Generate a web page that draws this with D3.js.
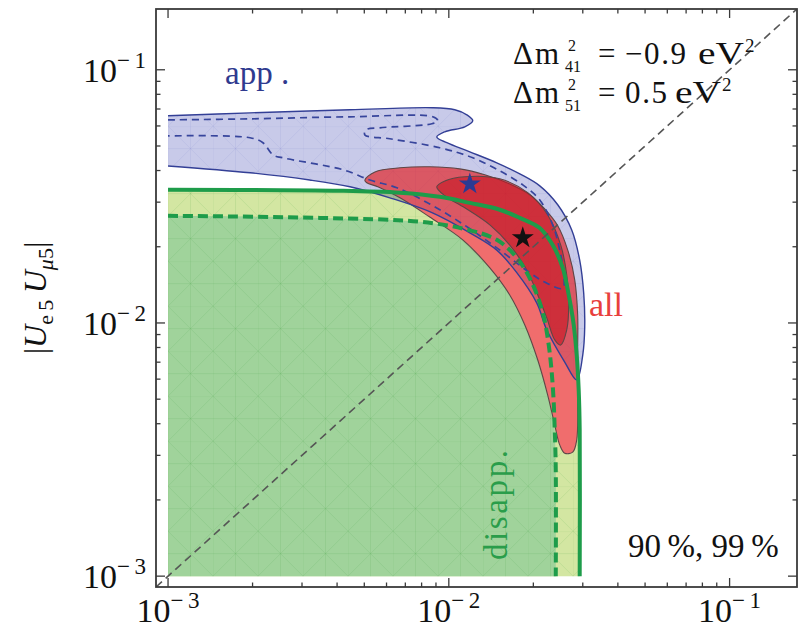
<!DOCTYPE html>
<html><head><meta charset="utf-8">
<script src="https://cdn.jsdelivr.net/npm/d3@7"></script>
<style>body{margin:0;background:#fff} svg{display:block} text{font-family:"Liberation Serif","Times New Roman",serif}</style>
</head><body>
<svg id="c" width="812" height="633"></svg>
<script>
// ---- data ----
const xDomain = [0.000906, 0.1738];
const yDomain = [0.000906, 0.1738];
const majorTicks = [1e-3, 1e-2, 1e-1];
const tickExp = ["\u2212\u20093", "\u2212\u20092", "\u2212\u20091"];
const minorMult = [2,3,4,5,6,7,8,9];
const dataEdge = [0.001, 0.001];

// disappearance 99% (solid) and 90% (dashed)
const disapp99 = [[0.001,0.0336],[0.00409,0.0333],[0.0067,0.0327],[0.00929,0.0315],[0.01188,0.0298],[0.01519,0.0280],[0.0179,0.0260],[0.02108,0.0237],[0.02344,0.0203],[0.02545,0.0165],[0.02673,0.0129],[0.02785,0.00982],[0.02854,0.00747],[0.02901,0.00544],[0.02925,0.00378],[0.02925,0.001]];
const disapp90 = [[0.001,0.0265],[0.003475,0.0260],[0.00789,0.0251],[0.0114,0.0235],[0.01482,0.0213],[0.01746,0.0181],[0.01973,0.0145],[0.02161,0.01095],[0.02269,0.00818],[0.02344,0.00569],[0.02384,0.00378],[0.02404,0.00262],[0.02404,0.001]];
// appearance 99% (solid) and 90% (dashed)
const app99 = [[0.001,0.0658],[0.001959,0.0676],[0.004446,0.0695],[0.00877,0.0708],[0.0105,0.0695],[0.01159,0.0664],[0.01217,0.0629],[0.0114,0.0595],[0.00968,0.0569],[0.00906,0.0543],[0.00984,0.0515],[0.01188,0.0474],[0.01482,0.0429],[0.0179,0.0388],[0.02108,0.0348],[0.02443,0.0293],[0.0274,0.0233],[0.02925,0.0177],[0.03023,0.0131],[0.03048,0.00964],[0.02999,0.00747],[0.02854,0.00596],[0.02587,0.00701],[0.02233,0.00938],[0.02056,0.0120],[0.01746,0.0158],[0.01482,0.0194],[0.01188,0.0227],[0.008551,0.0275],[0.006166,0.0312],[0.004446,0.0345],[0.003199,0.0367],[0.001959,0.0392],[0.001,0.0417]];
const app90 = [[0.001,0.0634],[0.001959,0.0640],[0.004446,0.0652],[0.00877,0.0652],[0.00914,0.0629],[0.0087,0.0612],[0.005675,0.0590],[0.00507,0.0579],[0.005023,0.0553],[0.006166,0.0534],[0.00929,0.0492],[0.01217,0.0449],[0.01519,0.0399],[0.01834,0.0351],[0.02108,0.0306],[0.02344,0.0244],[0.02483,0.0194],[0.02566,0.0155],[0.02545,0.0137],[0.02196,0.0145],[0.01941,0.0158],[0.01482,0.0198],[0.01121,0.0246],[0.008551,0.0295],[0.006531,0.0342],[0.005236,0.0367],[0.004198,0.0403],[0.002564,0.0449],[0.002366,0.0461],[0.002178,0.0515],[0.001959,0.0539],[0.001,0.0548]];
// combined fit 99% and 90%
const all99 = [[0.005023,0.0367],[0.005457,0.0395],[0.006699,0.0410],[0.008551,0.0414],[0.01094,0.0406],[0.01343,0.0385],[0.01648,0.0354],[0.01941,0.0321],[0.02196,0.0282],[0.02443,0.0242],[0.02652,0.0194],[0.02808,0.0148],[0.02877,0.01076],[0.02877,0.00782],[0.02877,0.00496],[0.02854,0.00345],[0.02762,0.00309],[0.02587,0.00306],[0.02483,0.0033],[0.02384,0.00395],[0.0225,0.00519],[0.02074,0.00714],[0.01865,0.00982],[0.01648,0.0129],[0.014,0.0165],[0.01121,0.0213],[0.008551,0.0262],[0.006699,0.0312],[0.005585,0.0345],[0.005105,0.0358]];
const all90 = [[0.00906,0.0345],[0.00968,0.0364],[0.0114,0.0378],[0.01519,0.0371],[0.0191,0.0327],[0.0225,0.0267],[0.02504,0.0203],[0.0263,0.0155],[0.02673,0.0118],[0.0263,0.00938],[0.02504,0.00818],[0.02384,0.00857],[0.02233,0.01047],[0.02074,0.0129],[0.01895,0.0162],[0.01648,0.0203],[0.014,0.0244],[0.0114,0.0285],[0.00968,0.0318]];
const bestApp = [0.01188, 0.0354];
const bestAll = [0.01834, 0.0217];

// ---- drawing ----
const svg = d3.select("#c");
const L = 156, R = 797, T = 9, B = 587;
const x = d3.scaleLog().domain(xDomain).range([L, R]);
const y = d3.scaleLog().domain(yDomain).range([B, T]);

const defs = svg.append("defs");
function mesh(id, col){
  const p = defs.append("pattern").attr("id", id).attr("patternUnits","userSpaceOnUse")
    .attr("x", x(0.001)).attr("y", y(0.001)).attr("width", 45).attr("height", 45);
  p.append("path").attr("d","M0,0L45,45M45,0L0,45M0,0H45M0,0V45M0,22.5H45M22.5,0V45")
    .attr("stroke", col).attr("stroke-width", 0.6).attr("fill","none");
}
mesh("meshG","rgba(50,150,50,0.2)");
mesh("meshB","rgba(70,80,180,0.14)");
defs.append("clipPath").attr("id","plot").append("rect").attr("x",L).attr("y",T).attr("width",R-L).attr("height",B-T);

const g = svg.append("g").attr("clip-path","url(#plot)");
const open = d3.line().x(d=>x(d[0])).y(d=>y(d[1])).curve(d3.curveCatmullRom.alpha(0.5));
const closed = d3.line().x(d=>x(d[0])).y(d=>y(d[1])).curve(d3.curveCatmullRomClosed.alpha(0.5));
const corner = `L${x(dataEdge[0])},${y(dataEdge[1])}Z`;

// green disappearance regions
g.append("path").attr("d", open(disapp99)+corner).attr("fill","#d3e6a2");
g.append("path").attr("d", open(disapp90)+corner).attr("fill","#a0d39b");
g.append("path").attr("d", open(disapp99)+corner).attr("fill","url(#meshG)");

// red region knocks out the green beneath it
g.append("path").attr("d", closed(all99)).attr("fill","#fff");

// blue appearance region fill
g.append("path").attr("d", open(app99)+"Z").attr("fill","#c8cae9").style("mix-blend-mode","multiply");
g.append("path").attr("d", open(app99)+"Z").attr("fill","url(#meshB)");

// red combined regions (semi-transparent over the blue)
g.append("path").attr("d", closed(all99)).attr("fill","rgb(230,12,12)").attr("fill-opacity",0.6).attr("stroke","#5e4646").attr("stroke-width",1.1);
g.append("path").attr("d", closed(all90)).attr("fill","rgb(198,20,31)").attr("fill-opacity",0.6).attr("stroke","#5e4646").attr("stroke-width",1.1);

// blue lines
g.append("path").attr("d", open(app99)).attr("fill","none").attr("stroke","#333f96").attr("stroke-width",1.4);
g.append("path").attr("d", open(app90)).attr("fill","none").attr("stroke","#37459c").attr("stroke-width",1.7).attr("stroke-dasharray","7,5");

// green lines
g.append("path").attr("d", open(disapp99)).attr("fill","none").attr("stroke","#1e9c4a").attr("stroke-width",4);
g.append("path").attr("d", open(disapp90)).attr("fill","none").attr("stroke","#1e9c4a").attr("stroke-width",4).attr("stroke-dasharray","10,5");

// diagonal
g.append("line").attr("x1", x(xDomain[0])).attr("y1", y(yDomain[0])).attr("x2", x(xDomain[1])).attr("y2", y(yDomain[1]))
  .attr("stroke","#555").attr("stroke-width",1.6).attr("stroke-dasharray","8,5");

// best-fit stars
const star = d3.symbol().type(d3.symbolStar).size(150);
svg.append("path").attr("d", star()).attr("transform",`translate(${x(bestApp[0])},${y(bestApp[1])})`).attr("fill","#2b3a93");
svg.append("path").attr("d", star()).attr("transform",`translate(${x(bestAll[0])},${y(bestAll[1])})`).attr("fill","#111");

// frame & ticks
svg.append("rect").attr("x",L).attr("y",T).attr("width",R-L).attr("height",B-T).attr("fill","none").attr("stroke","#3a3a3a").attr("stroke-width",1.8);
const minors = [];
majorTicks.forEach(m => minorMult.forEach(k => minors.push(m*k)));
[1e-4].forEach(m => minorMult.forEach(k => minors.push(m*k)));
const inDom = v => v >= xDomain[0] && v <= xDomain[1];
const tk = svg.append("g").attr("stroke","#3a3a3a").attr("stroke-width",1.3);
majorTicks.concat(minors).filter(inDom).forEach(v => {
  const len = majorTicks.includes(v) ? 9 : 4.5;
  tk.append("line").attr("x1",x(v)).attr("x2",x(v)).attr("y1",B).attr("y2",B-len);
  tk.append("line").attr("x1",x(v)).attr("x2",x(v)).attr("y1",T).attr("y2",T+len);
  tk.append("line").attr("y1",y(v)).attr("y2",y(v)).attr("x1",L).attr("x2",L+len);
  tk.append("line").attr("y1",y(v)).attr("y2",y(v)).attr("x1",R).attr("x2",R-len);
});

// tick labels
majorTicks.forEach((v,i) => {
  const t = svg.append("text").attr("x", x(v)).attr("y", 622).attr("text-anchor","middle")
    .attr("font-size", 34).attr("fill","#111");
  t.append("tspan").text("10");
  t.append("tspan").attr("font-size",23).attr("dy",-14).text(tickExp[i]);
  const u = svg.append("text").attr("x", 146).attr("y", y(v)+12).attr("text-anchor","end")
    .attr("font-size", 34).attr("fill","#111");
  u.append("tspan").text("10");
  u.append("tspan").attr("font-size",23).attr("dy",-14).text(tickExp[i]);
});

// y axis title
const yt = svg.append("text").attr("transform","translate(46,298) rotate(-90)").attr("text-anchor","middle")
  .attr("font-size", 32).attr("fill","#111");
yt.append("tspan").text("|");
yt.append("tspan").attr("font-style","italic").text("U");
yt.append("tspan").attr("font-size",22).attr("dy",7).text("e\u20095");
yt.append("tspan").attr("font-style","italic").attr("dy",-7).text("\u2009U");
yt.append("tspan").attr("font-size",22).attr("font-style","italic").attr("dy",7).text("\u03bc");
yt.append("tspan").attr("font-size",22).text("5");
yt.append("tspan").attr("dy",-7).text("|");

// annotation
function anno(yb, sub, val, valW, eVx){
  const a = (xx,yy,fs,txt,w,adj)=>{ const t=svg.append("text").attr("x",xx).attr("y",yy).attr("font-size",fs).attr("fill","#111").text(txt);
    if (w) t.attr("textLength", w).attr("lengthAdjust", adj || "spacing"); return t; };
  a(513, yb, 31, "\u0394m", 46);
  a(568, yb-13, 16, "2");
  a(565, yb+8, 16, sub);
  a(598, yb, 31, "=");
  a(625, yb, 31, val, valW);
  a(eVx, yb, 31, "eV", 46, "spacingAndGlyphs");
  a(eVx + 47, yb-12, 19, "2");
}
anno(64, "41", "\u22120.9", 61, 698);
anno(103, "51", "0.5", 42, 675);

// labels
svg.append("text").attr("x",225).attr("y",84).attr("font-size",33).attr("fill","#2f3a8f").text("app .");
svg.append("text").attr("x",589).attr("y",316).attr("font-size",34).attr("fill","#e8403c").text("all");
svg.append("text").attr("transform","translate(507,505) rotate(-90)").attr("text-anchor","middle").attr("font-size",33)
  .attr("textLength",110).attr("lengthAdjust","spacing").attr("fill","#2a9d4a").text("disapp.");
svg.append("text").attr("x",628).attr("y",557).attr("font-size",33).attr("fill","#111").text("90\u2009%, 99\u2009%");
</script>
</body></html>
